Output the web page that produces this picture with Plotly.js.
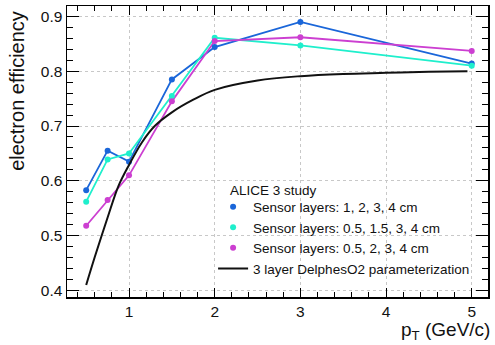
<!DOCTYPE html>
<html>
<head>
<meta charset="utf-8">
<script src="https://cdn.plot.ly/plotly-3.0.1.min.js"></script>
<style>html,body{margin:0;padding:0;background:#fff;}#chart{width:495px;height:345px;}</style>
</head>
<body>
<div id="chart"></div>
<script>
// Data
var ptPoints = [0.5, 0.75, 1, 1.5, 2, 3, 5];
var effLayers1234 = [0.583, 0.655, 0.635, 0.785, 0.844, 0.890, 0.814];
var effLayers051534 = [0.562, 0.639, 0.650, 0.755, 0.861, 0.847, 0.810];
var effLayers05234 = [0.518, 0.565, 0.610, 0.745, 0.855, 0.862, 0.837];
var ptParam = [0.5, 0.6, 0.75, 0.875, 1, 1.15, 1.3, 1.5, 1.75, 2, 2.5, 3, 3.5, 4, 4.5, 4.95];
var effParam = [0.410, 0.461, 0.533, 0.590, 0.629, 0.670, 0.700, 0.725, 0.748, 0.766, 0.783, 0.791, 0.795, 0.797, 0.799, 0.800];
var seriesNames = ["Sensor layers: 1, 2, 3, 4 cm", "Sensor layers: 0.5, 1.5, 3, 4 cm", "Sensor layers: 0.5, 2, 3, 4 cm", "3 layer DelphesO2 parameterization"];
var legendHeader = "ALICE 3 study";
var xTitle = "p<sub>T</sub> (GeV/c)";
var yTitle = "electron efficiency";

var colors = ["#1a66d9", "#1fefcc", "#cc3fd1"];
var series = [effLayers1234, effLayers051534, effLayers05234];
var FONT = "Liberation Sans, Arial, Helvetica, sans-serif";

var traces = [];
series.forEach(function (s, i) {
  traces.push({x: ptPoints, y: s, type: "scatter", mode: "lines", showlegend: false,
    line: {color: colors[i], width: 1.8}, hoverinfo: "skip"});
});
series.forEach(function (s, i) {
  traces.push({x: ptPoints, y: s, type: "scatter", mode: "markers", name: seriesNames[i],
    marker: {color: colors[i], size: 6}});
});
traces.push({x: ptParam, y: effParam, type: "scatter", mode: "lines", name: seriesNames[3],
  line: {color: "#111", width: 2, shape: "spline", smoothing: 1}});

var axisCommon = {
  showline: true, linecolor: "#000", linewidth: 1.5, mirror: "allticks",
  ticks: "inside", tickcolor: "#000", tickwidth: 1,
  showgrid: true, gridcolor: "#c8c8c8", griddash: "dot", gridwidth: 1,
  zeroline: false, tickfont: {family: FONT, size: 15.5, color: "#111"}
};

var layout = {
  width: 495, height: 345,
  margin: {l: 67, r: 7, t: 6, b: 48},
  paper_bgcolor: "#fff", plot_bgcolor: "#fff",
  font: {family: FONT, color: "#111"},
  showlegend: true,
  xaxis: Object.assign({}, axisCommon, {
    range: [0.276, 5.19], tickvals: [1, 2, 3, 4, 5], ticklen: 9,
    minor: {ticks: "inside", ticklen: 5, dtick: 0.2, tick0: 0, tickcolor: "#000", showgrid: false}
  }),
  yaxis: Object.assign({}, axisCommon, {
    range: [0.388, 0.919], tickvals: [0.4, 0.5, 0.6, 0.7, 0.8, 0.9], ticklen: 12,
    tickformat: ".1f",
    minor: {ticks: "inside", ticklen: 6, dtick: 0.02, tick0: 0, tickcolor: "#000", showgrid: false}
  }),
  legend: {
    x: 0.347, y: 0.3626, xanchor: "left", yanchor: "top",
    bgcolor: "rgba(0,0,0,0)", borderwidth: 0,
    font: {family: FONT, size: 13.5, color: "#111"},
    tracegroupgap: 0
  },
  annotations: [
    {text: yTitle, xref: "paper", yref: "paper", x: -0.119, y: 0.708, textangle: -90,
      xanchor: "center", yanchor: "middle", showarrow: false,
      font: {family: FONT, size: 20, color: "#111"}},
    {text: xTitle, xref: "paper", yref: "paper", x: 1.0095, y: -0.116,
      xanchor: "right", yanchor: "middle", showarrow: false,
      font: {family: FONT, size: 19, color: "#111"}},
    {text: legendHeader, xref: "paper", yref: "paper", x: 0.382, y: 0.366,
      xanchor: "left", yanchor: "middle", showarrow: false,
      font: {family: FONT, size: 13.5, color: "#111"}}
  ]
};

Plotly.newPlot("chart", traces, layout, {displayModeBar: false, staticPlot: true});
</script>
</body>
</html>
